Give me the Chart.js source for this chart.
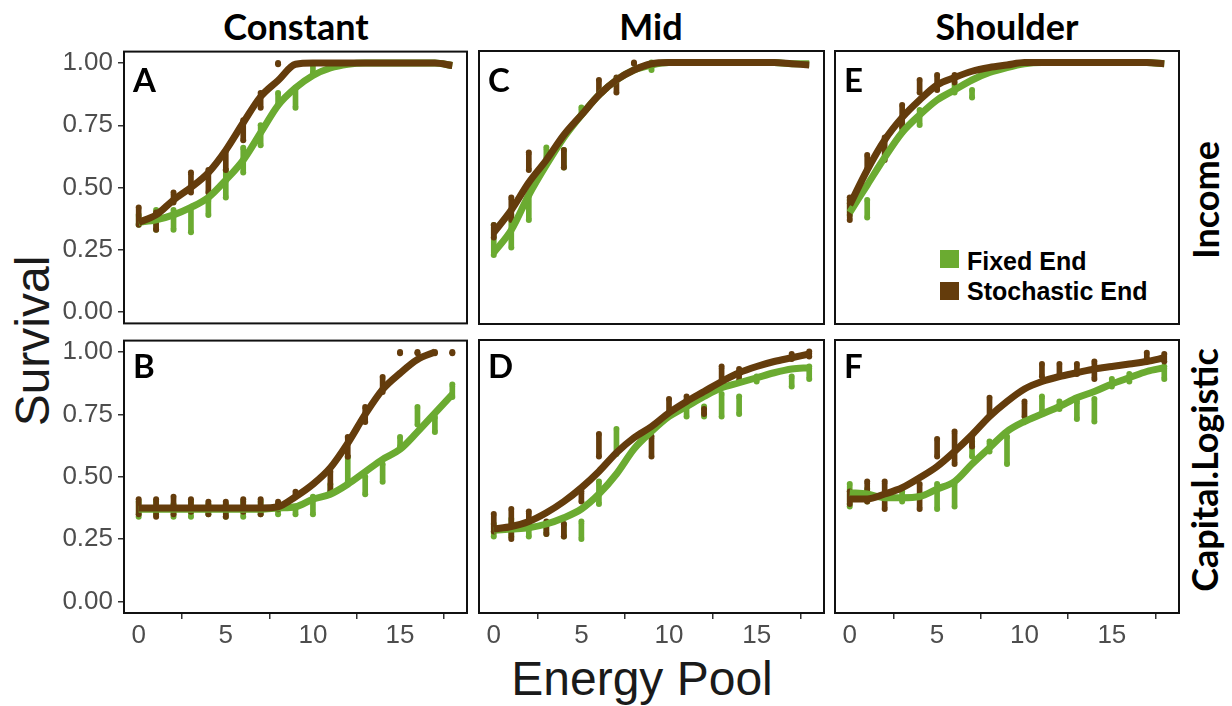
<!DOCTYPE html>
<html>
<head>
<meta charset="utf-8">
<script src="https://cdn.jsdelivr.net/npm/chart.js@4.4.1/dist/chart.umd.min.js"></script>
<style>
  body { margin: 0; background: #fff; }
  #wrap { position: relative; width: 1232px; height: 706px; overflow: hidden; background: #fff;
          font-family: "Liberation Sans", Arial, sans-serif; }
  canvas { position: absolute; }
  .strip { position: absolute; font-family: Lato, "Open Sans", sans-serif; font-weight: 700;
           font-size: 36px; line-height: 1; color: #000; white-space: nowrap; }
  .tag { position: absolute; font-family: Lato, "Open Sans", sans-serif; font-weight: 700;
         font-size: 33px; line-height: 1; color: #000; }
  .axt { position: absolute; font-size: 48px; line-height: 1; color: #1a1a1a; white-space: nowrap; }
  .leg { position: absolute; font-weight: 700; font-size: 25px; line-height: 1; color: #000; white-space: nowrap; }
  .sw { position: absolute; width: 19px; height: 18px; }
</style>
</head>
<body>
<div id="wrap">
  <div class="strip" style="left:296px;top:8px;transform:translateX(-50%)">Constant</div>
  <div class="strip" style="left:651px;top:8px;transform:translateX(-50%)">Mid</div>
  <div class="strip" style="left:1007px;top:8px;transform:translateX(-50%)">Shoulder</div>
  <div class="strip" style="left:1205px;top:200px;transform:translate(-50%,-50%) rotate(-90deg)">Income</div>
  <div class="strip" style="left:1204px;top:470px;transform:translate(-50%,-50%) rotate(-90deg)">Capital.Logistic</div>
  <div class="axt" style="left:33px;top:341px;transform:translate(-50%,-50%) rotate(-90deg)">Survival</div>
  <div class="axt" style="left:642px;top:655px;transform:translateX(-50%)">Energy Pool</div>
  <div class="sw" style="left:940px;top:250px;background:#6bab31"></div>
  <div class="sw" style="left:940px;top:282px;background:#643c0c"></div>
  <div class="leg" style="left:967px;top:249px">Fixed End</div>
  <div class="leg" style="left:967px;top:279px">Stochastic End</div>
</div>
<script>
// x values (energy pool) and tick marks
const energy = [0,1,2,3,4,5,6,7,8,9,10,11,12,13,14,15,16,17,18];
const xTicks = [0, 5, 10, 15];
const yTicks = [0, 0.25, 0.5, 0.75, 1];

// fitted curves (Fixed End = green, Stochastic End = brown)
const fixedA = [0.36,0.37,0.39,0.42,0.46,0.53,0.61,0.72,0.83,0.90,0.95,0.98,0.995,1,1,1,1,1,0.99];
const stochA = [0.36,0.39,0.45,0.50,0.56,0.65,0.76,0.865,0.93,0.995,1,1,1,1,1,1,1,1,0.99];
const fixedC = [0.24,0.33,0.47,0.59,0.70,0.79,0.87,0.93,0.97,0.99,1,1,1,1,1,1,1,0.995,0.995];
const stochC = [0.32,0.41,0.52,0.61,0.71,0.79,0.87,0.93,0.97,0.995,1,1,1,1,1,1,1,0.995,0.99];
const fixedE = [0.40,0.51,0.62,0.72,0.79,0.85,0.89,0.93,0.96,0.98,0.995,1,1,1,1,1,1,1,0.995];
const stochE = [0.43,0.57,0.69,0.78,0.85,0.91,0.94,0.965,0.98,0.99,1,1,1,1,1,1,1,1,0.995];
const fixedB = [0.37,0.37,0.37,0.37,0.37,0.37,0.37,0.37,0.375,0.38,0.41,0.43,0.47,0.52,0.57,0.61,0.68,0.755,0.83];
const stochB = [0.375,0.375,0.375,0.375,0.375,0.375,0.375,0.375,0.38,0.42,0.47,0.536,0.635,0.75,0.85,0.915,0.97,1.0,null];
const fixedD = [0.285,0.29,0.295,0.31,0.335,0.37,0.43,0.51,0.61,0.68,0.74,0.78,0.82,0.855,0.875,0.895,0.915,0.93,0.935];
const stochD = [0.29,0.30,0.32,0.355,0.40,0.455,0.52,0.595,0.655,0.70,0.755,0.80,0.84,0.88,0.915,0.94,0.96,0.975,0.99];
const fixedF = [0.435,0.43,0.415,0.415,0.42,0.45,0.48,0.55,0.615,0.68,0.72,0.75,0.78,0.815,0.84,0.87,0.895,0.92,0.935];
const stochF = [0.41,0.41,0.43,0.455,0.495,0.54,0.60,0.667,0.74,0.80,0.85,0.88,0.90,0.915,0.93,0.94,0.95,0.96,0.975];

// spread of the simulated points at each energy value: [x, low, high]
const spreadFixA = [[0,0.35,0.39],[1,0.33,0.41],[2,0.33,0.41],[3,0.32,0.42],[4,0.39,0.45],[5,0.46,0.57],[6,0.56,0.66],[7,0.67,0.75],[8,0.83,0.88],[9,0.82,0.90],[10,0.96,1.0]];
const spreadStoA = [[0,0.35,0.42],[1,0.33,0.40],[2,0.44,0.48],[3,0.48,0.56],[4,0.48,0.57],[5,0.57,0.65],[6,0.69,0.77],[7,0.82,0.88],[8,0.995,1.0]];
const spreadFixC = [[0,0.23,0.35],[1,0.26,0.39],[2,0.37,0.47],[3,0.62,0.66],[4,0.58,0.65],[5,0.79,0.82],[9,0.97,1.0]];
const spreadStoC = [[0,0.30,0.35],[1,0.37,0.46],[2,0.57,0.64],[4,0.58,0.65],[6,0.87,0.93],[7,0.88,0.94],[8,0.995,1.0]];
const spreadFixE = [[0,0.39,0.45],[1,0.38,0.45],[3,0.72,0.76],[4,0.75,0.81],[6,0.88,0.91],[7,0.86,0.89]];
const spreadStoE = [[0,0.37,0.46],[1,0.57,0.63],[2,0.61,0.70],[3,0.74,0.83],[4,0.88,0.93],[5,0.89,0.95],[6,0.92,0.95]];
const spreadFixB = [[0,0.34,0.40],[1,0.35,0.40],[2,0.34,0.39],[3,0.34,0.40],[4,0.35,0.39],[5,0.34,0.39],[6,0.34,0.40],[7,0.35,0.40],[8,0.35,0.39],[9,0.35,0.38],[10,0.35,0.42],[11,0.43,0.47],[12,0.48,0.58],[13,0.43,0.50],[14,0.48,0.55],[15,0.62,0.66],[16,0.71,0.78],[17,0.68,0.74],[18,0.82,0.87]];
const spreadStoB = [[0,0.35,0.41],[1,0.34,0.41],[2,0.35,0.42],[3,0.36,0.41],[4,0.35,0.40],[5,0.34,0.40],[6,0.36,0.41],[7,0.35,0.41],[8,0.37,0.40],[9,0.42,0.44],[11,0.44,0.52],[12,0.58,0.66],[13,0.72,0.78],[14,0.84,0.90],[15,0.995,1.0],[16,0.995,1.0],[17,0.995,1.0],[18,0.995,1.0]];
const spreadFixD = [[0,0.26,0.31],[1,0.26,0.33],[2,0.26,0.30],[3,0.27,0.31],[4,0.26,0.31],[5,0.25,0.32],[6,0.39,0.48],[7,0.59,0.69],[11,0.74,0.78],[12,0.74,0.78],[13,0.74,0.83],[14,0.75,0.82],[15,0.88,0.90],[17,0.86,0.90],[18,0.89,0.94]];
const spreadStoD = [[0,0.28,0.35],[1,0.25,0.37],[2,0.30,0.36],[3,0.27,0.32],[4,0.26,0.31],[5,0.40,0.44],[6,0.58,0.67],[9,0.58,0.66],[10,0.75,0.81],[11,0.79,0.82],[12,0.75,0.77],[13,0.87,0.94],[14,0.88,0.93],[17,0.97,0.99],[18,0.98,1.0]];
const spreadFixF = [[0,0.38,0.47],[1,0.40,0.45],[3,0.40,0.44],[5,0.37,0.47],[6,0.38,0.47],[7,0.58,0.64],[8,0.60,0.64],[9,0.55,0.66],[11,0.75,0.82],[12,0.77,0.80],[13,0.73,0.80],[14,0.72,0.81],[15,0.86,0.89],[16,0.88,0.91],[18,0.89,0.94]];
const spreadStoF = [[0,0.39,0.44],[1,0.40,0.48],[2,0.37,0.48],[4,0.37,0.47],[5,0.58,0.65],[6,0.55,0.68],[7,0.62,0.66],[8,0.74,0.815],[10,0.74,0.80],[11,0.90,0.95],[12,0.90,0.95],[13,0.91,0.95],[14,0.89,0.96],[17,0.97,0.995],[18,0.96,0.99]];

const GREEN = '#6bab31';
const BROWN = '#643c0c';

const colLeft = [123, 478, 834];
const colWidth = [345, 347, 346];
const rowTop = [50, 339];
const rowHeight = 275;
const tagBase = [92, 378];

const panels = [
  { tag: 'A', col: 0, row: 0, fixed: fixedA, stoch: stochA, fixSp: spreadFixA, stoSp: spreadStoA },
  { tag: 'C', col: 1, row: 0, fixed: fixedC, stoch: stochC, fixSp: spreadFixC, stoSp: spreadStoC },
  { tag: 'E', col: 2, row: 0, fixed: fixedE, stoch: stochE, fixSp: spreadFixE, stoSp: spreadStoE },
  { tag: 'B', col: 0, row: 1, fixed: fixedB, stoch: stochB, fixSp: spreadFixB, stoSp: spreadStoB },
  { tag: 'D', col: 1, row: 1, fixed: fixedD, stoch: stochD, fixSp: spreadFixD, stoSp: spreadStoD },
  { tag: 'F', col: 2, row: 1, fixed: fixedF, stoch: stochF, fixSp: spreadFixF, stoSp: spreadStoF },
];

// black panel border
const frame = {
  id: 'frame',
  afterDraw(chart) {
    const { ctx, chartArea: a } = chart;
    ctx.save();
    ctx.strokeStyle = '#111';
    ctx.lineWidth = 2;
    ctx.strokeRect(a.left + 1, a.top + 1, a.right - a.left - 2, a.bottom - a.top - 2);
    ctx.restore();
  }
};

const wrap = document.getElementById('wrap');
const tickFont = { family: '"Liberation Sans", Arial, sans-serif', size: 26 };

function lineSet(vals, color, order) {
  return {
    type: 'line',
    data: energy.map((e, i) => ({ x: e, y: vals[i] })),
    borderColor: color, borderWidth: 7, pointRadius: 0, pointHoverRadius: 0,
    cubicInterpolationMode: 'monotone', spanGaps: false, order
  };
}
function spreadSet(sp, color, order) {
  return {
    type: 'bar',
    data: sp.map(([x, lo, hi]) => ({ x, y: [lo, hi] })),
    backgroundColor: color, barThickness: 5, borderRadius: 2,
    borderSkipped: false, grouped: false, order
  };
}
// single points at both ends of each spread
function endSet(sp, color, order) {
  const pts = [];
  sp.forEach(([x, lo, hi]) => { pts.push({ x, y: lo }); pts.push({ x, y: hi }); });
  return {
    type: 'scatter', data: pts, showLine: false,
    pointRadius: 3, pointHoverRadius: 3, pointBackgroundColor: color, pointBorderWidth: 0, order
  };
}

function makePanel(p) {
  const left = colLeft[p.col], top = rowTop[p.row], w = colWidth[p.col], h = rowHeight;
  const showY = p.col === 0, showX = p.row === 1;
  const padL = showY ? 113 : 0, axisB = showX ? 40 : 0, padT = 20, padB = showX ? 0 : 20;
  const cw = w + padL, ch = h + padT + axisB + padB;
  const cv = document.createElement('canvas');
  cv.width = cw; cv.height = ch;
  cv.style.left = (left - padL) + 'px';
  cv.style.top = (top - padT) + 'px';
  cv.style.width = cw + 'px';
  cv.style.height = ch + 'px';
  wrap.appendChild(cv);

  new Chart(cv, {
    type: 'line',
    data: {
      datasets: [
        lineSet(p.stoch, BROWN, 0),
        lineSet(p.fixed, GREEN, 1),
        endSet(p.stoSp, BROWN, 2),
        spreadSet(p.stoSp, BROWN, 3),
        endSet(p.fixSp, GREEN, 4),
        spreadSet(p.fixSp, GREEN, 5)
      ]
    },
    options: {
      responsive: false, animation: false, devicePixelRatio: 1,
      layout: { autoPadding: false, padding: { top: padT, bottom: padB, left: 0, right: 0 } },
      plugins: { legend: { display: false }, tooltip: { enabled: false } },
      scales: {
        x: {
          type: 'linear', min: -0.9, max: 18.9, offset: false,
          afterFit: s => { s.height = axisB; },
          afterBuildTicks: s => { s.ticks = xTicks.map(v => ({ value: v })); },
          grid: { display: showX, drawOnChartArea: false, drawTicks: true, tickLength: 5, color: '#333', lineWidth: 1.5 },
          border: { display: false },
          ticks: { display: showX, color: '#4d4d4d', font: tickFont, padding: 1, maxRotation: 0, autoSkip: false }
        },
        y: {
          type: 'linear', min: -0.05, max: 1.05,
          afterFit: s => { s.width = padL; },
          afterBuildTicks: s => { s.ticks = yTicks.map(v => ({ value: v })); },
          grid: { display: showY, drawOnChartArea: false, drawTicks: true, tickLength: 5, color: '#333', lineWidth: 1.5 },
          border: { display: false },
          ticks: { display: showY, color: '#4d4d4d', font: tickFont, padding: 5, autoSkip: false,
                   callback: v => v.toFixed(2) }
        }
      }
    },
    plugins: [frame]
  });

  const t = document.createElement('div');
  t.className = 'tag';
  t.textContent = p.tag;
  t.style.left = (left + 10) + 'px';
  t.style.top = (tagBase[p.row] - 29) + 'px';
  wrap.appendChild(t);
}

panels.forEach(makePanel);
</script>
</body>
</html>
